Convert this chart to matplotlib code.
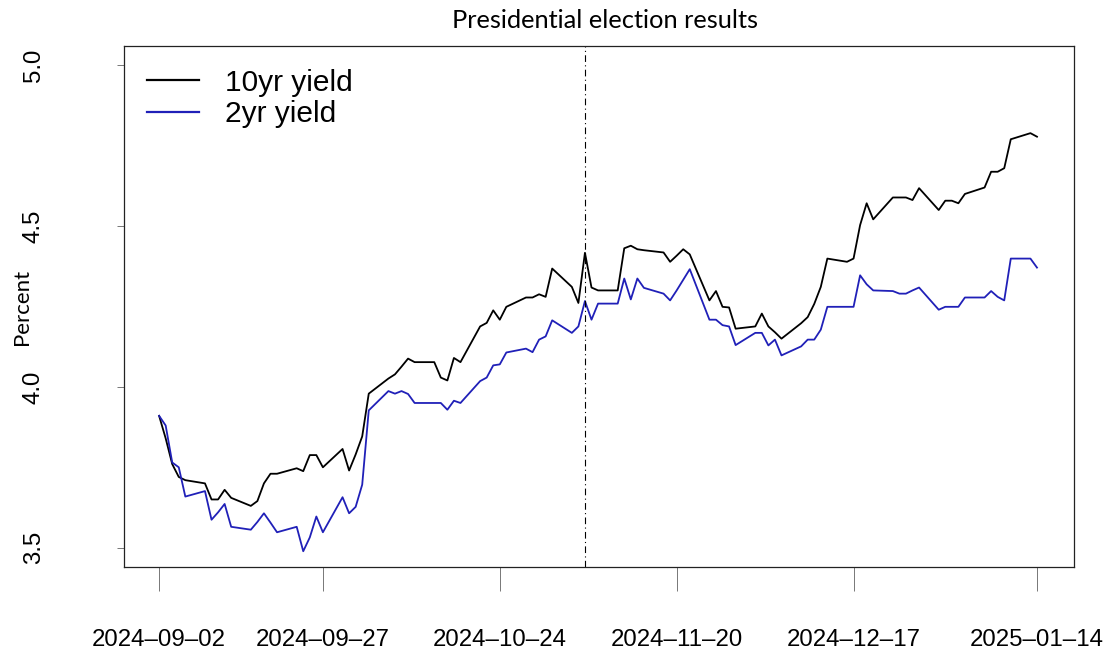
import matplotlib

matplotlib.use("Agg")
import matplotlib.pyplot as plt
import pandas as pd

# business days, 2024-09-02 .. 2025-01-14 (97 points)
dates = pd.bdate_range("2024-09-02", "2025-01-14")

yield_10yr = [
    3.91, 3.84, 3.76, 3.72, 3.71,
    3.70, 3.65, 3.65, 3.68, 3.655,
    3.63, 3.645, 3.70, 3.73, 3.73,
    3.747, 3.738, 3.788, 3.788, 3.75,
    3.807, 3.74, 3.79, 3.846, 3.979,
    4.026, 4.039, 4.063, 4.088, 4.077,
    4.077, 4.029, 4.02, 4.09, 4.077,
    4.188, 4.199, 4.238, 4.209, 4.249,
    4.278, 4.278, 4.288, 4.28, 4.368,
    4.311, 4.261, 4.417, 4.309, 4.30,
    4.30, 4.431, 4.439, 4.428, 4.425,
    4.418, 4.389, 4.408, 4.428, 4.412,
    4.269, 4.298, 4.249, 4.247, 4.181,
    4.188, 4.228, 4.188, 4.17, 4.15,
    4.198, 4.217, 4.258, 4.311, 4.399,
    4.389, 4.399, 4.503, 4.571, 4.521,
    4.589, 4.589, 4.589, 4.581, 4.618,
    4.55, 4.579, 4.579, 4.571, 4.60,
    4.62, 4.669, 4.669, 4.68, 4.77,
    4.789, 4.778,
]

yield_2yr = [
    3.91, 3.88, 3.765, 3.75, 3.659,
    3.676, 3.587, 3.61, 3.636, 3.565,
    3.556, 3.58, 3.607, 3.578, 3.548,
    3.565, 3.489, 3.532, 3.597, 3.548,
    3.657, 3.607, 3.627, 3.696, 3.927,
    3.987, 3.979, 3.987, 3.978, 3.95,
    3.95, 3.95, 3.929, 3.957, 3.95,
    4.018, 4.029, 4.067, 4.07, 4.107,
    4.119, 4.108, 4.147, 4.157, 4.207,
    4.168, 4.188, 4.267, 4.209, 4.259,
    4.259, 4.337, 4.272, 4.337, 4.308,
    4.29, 4.269, 4.30, 4.333, 4.366,
    4.209, 4.209, 4.192, 4.188, 4.13,
    4.168, 4.168, 4.129, 4.147, 4.098,
    4.126, 4.147, 4.147, 4.178, 4.249,
    4.249, 4.249, 4.347, 4.319, 4.30,
    4.298, 4.29, 4.29, 4.30, 4.309,
    4.24, 4.249, 4.249, 4.249, 4.278,
    4.278, 4.298, 4.28, 4.269, 4.399,
    4.399, 4.371,
]

election_date = "2024-11-06"
tick_dates = ["2024-09-02", "2024-09-27", "2024-10-24",
              "2024-11-20", "2024-12-17", "2025-01-14"]
y_ticks = [3.5, 4.0, 4.5, 5.0]

fig = plt.figure(figsize=(11.09, 6.58), dpi=100)
ax = fig.add_axes([124 / 1109, 1 - 567 / 658, 950 / 1109, 521 / 658])

ax.plot(dates, yield_10yr, color="black", lw=1.3, label="10yr yield")
ax.plot(dates, yield_2yr, color="#2020b8", lw=1.3, label="2yr yield")
ax.axvline(pd.Timestamp(election_date), color="black", lw=0.8,
           linestyle=(0, (6, 3, 1, 3)))

start = pd.Timestamp("2024-09-02")
ax.set_xlim(start - pd.Timedelta(days=5.36), start + pd.Timedelta(days=139.65))
ax.set_ylim(3.44, 5.06)

ticks = [pd.Timestamp(d) for d in tick_dates]
ax.set_xticks(ticks)
ax.set_xticklabels([d.replace("-", "\u2013") for d in tick_dates],
                   fontfamily="Liberation Sans", fontsize=17.3)
ax.tick_params(axis="x", direction="out", length=17, width=0.7,
               color="#777777", pad=28)

ax.set_yticks(y_ticks)
ax.set_yticklabels([f"{v:.1f}" for v in y_ticks], rotation=90, va="center",
                   fontfamily="Liberation Sans", fontsize=17.3)
ax.tick_params(axis="y", direction="out", length=5, width=0.7,
               color="#777777", pad=52)

for s in ax.spines.values():
    s.set_linewidth(0.9)
    s.set_color("#222222")

ax.set_ylabel("Percent", fontfamily="Lato", fontsize=16)
ax.yaxis.set_label_coords(-0.097, 0.5)

fig.text(605 / 1109, 1 - 21 / 658, "Presidential election results",
         ha="center", va="center", fontfamily="Lato", fontsize=18.3)

leg = ax.legend(loc="upper left", frameon=False, handlelength=1.75,
                handletextpad=0.87, labelspacing=0.12,
                prop={"family": "Liberation Sans", "size": 21.5},
                bbox_to_anchor=(-0.004, 1.008))
for line in leg.get_lines():
    line.set_linewidth(1.6)

fig.savefig("out.png", dpi=100)
